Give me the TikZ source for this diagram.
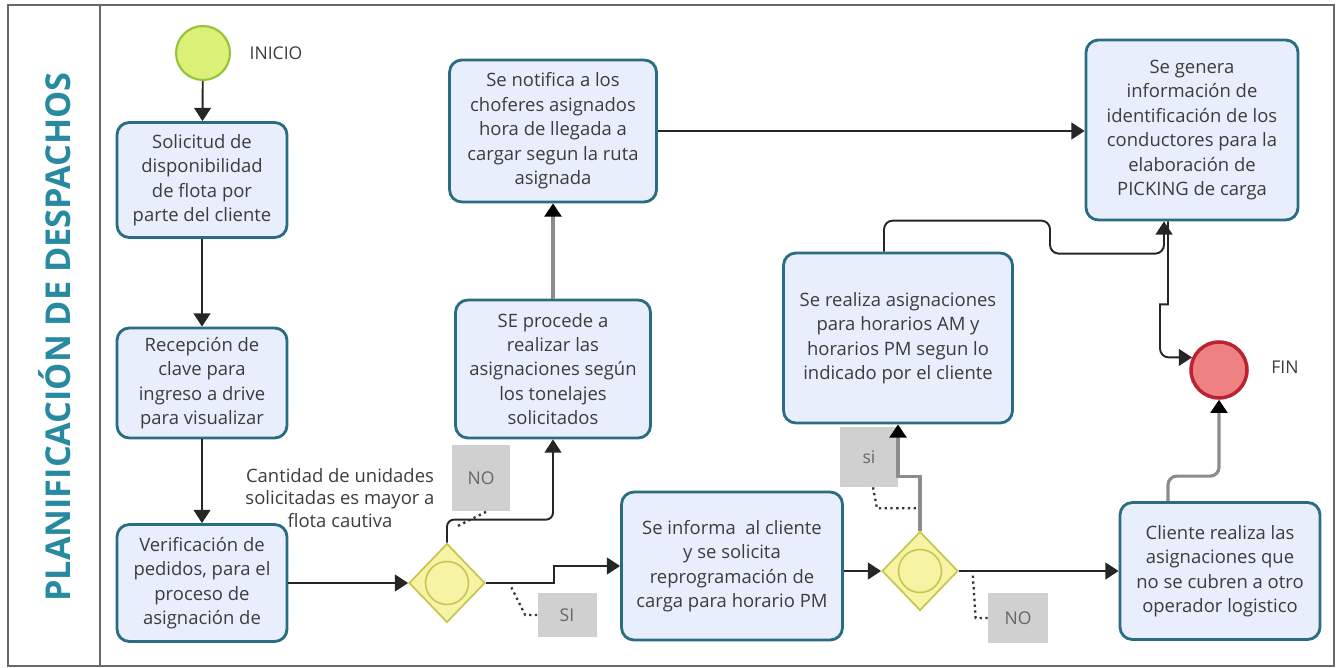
\documentclass[tikz,border=0pt]{standalone}
\usepackage{fontspec}
\setmainfont{Open Sans}
\usepackage{tikz}
\usetikzlibrary{shapes.geometric,arrows.meta,positioning,calc}

\definecolor{taskfill}{RGB}{233,238,252}
\definecolor{taskborder}{RGB}{42,108,130}
\definecolor{tasktext}{RGB}{60,60,60}
\definecolor{startfill}{RGB}{218,240,118}
\definecolor{startborder}{RGB}{150,195,55}
\definecolor{gatefill}{RGB}{246,243,165}
\definecolor{gateborder}{RGB}{200,198,80}
\definecolor{endfill}{RGB}{238,130,130}
\definecolor{endborder}{RGB}{185,35,50}
\definecolor{flaggray}{RGB}{208,208,208}
\definecolor{titleblue}{RGB}{40,138,160}
\definecolor{framegray}{RGB}{105,105,105}

\begin{document}
\begin{tikzpicture}[x=0.02cm, y=-0.02cm,
        >={Triangle[length=7.5pt,width=9.5pt]},
        task/.style={rectangle, rounded corners=7pt, draw=taskborder, line width=1.6pt, fill=taskfill, text=tasktext, font=\fontsize{10.5}{13.9}\selectfont, align=center, inner sep=2pt},
        gate/.style={diamond, draw=gateborder, fill=gatefill, line width=1pt, minimum width=1.52cm, minimum height=1.58cm, inner sep=0pt},
        gatering/.style={circle, draw=gateborder, line width=0.9pt, minimum size=0.86cm, inner sep=0pt},
        flag/.style={rectangle, fill=flaggray, text=black!60, font=\fontsize{10}{12}\selectfont, inner sep=0pt},
        flow/.style={->, line width=1.1pt, black!85},
        grayflow/.style={-{Triangle[length=7.5pt,width=9.5pt,color=black]}, line width=1.8pt, black!45},
        assoc/.style={line width=1.3pt, dotted, black!80}]

        \useasboundingbox (0,0) rectangle (1338,668);

        % Pool and lane
        \draw[framegray, line width=1.2pt] (8,5) rectangle (1334,666);
        \draw[framegray, line width=1.2pt] (100,5) -- (100,666);
        \node[rotate=90, text=titleblue, font=\fontsize{19.5}{21}\selectfont\bfseries] (lane) at (55,337) {PLANIFICACIÓN DE DESPACHOS};

        % Events
        \node[circle, draw=startborder, fill=startfill, line width=1.2pt, minimum size=1.08cm] (inicio) at (203,53) {};
        \node[font=\fontsize{10}{12}\selectfont, text=tasktext] (inicioLbl) at (276,53) {INICIO};
        \node[circle, draw=endborder, fill=endfill, line width=2pt, minimum size=1.12cm] (fin) at (1219,370) {};
        \node[font=\fontsize{10}{12}\selectfont, text=tasktext] (finLbl) at (1285,367) {FIN};

        % Tasks
        \node[task, minimum width=3.4cm, minimum height=2.3cm] (solicitud) at (202,180) {Solicitud de\\disponibilidad\\de flota por\\parte del cliente};
        \node[task, minimum width=3.4cm, minimum height=2.2cm] (recepcion) at (202,383) {Recepción de\\clave para\\ingreso a drive\\para visualizar};
        \node[task, minimum width=3.4cm, minimum height=2.34cm] (verif) at (202,583) {Verificación de\\pedidos, para el\\proceso de\\asignación de};
        \node[task, minimum width=3.9cm, minimum height=2.76cm] (procede) at (553,369) {SE procede a\\realizar las\\asignaciones según\\los tonelajes\\solicitados};
        \node[task, minimum width=4.14cm, minimum height=2.84cm] (notifica) at (553,131) {Se notifica a los\\choferes asignados\\hora de llegada a\\cargar segun la ruta\\asignada};
        \node[task, minimum width=4.42cm, minimum height=2.96cm] (informa) at (732,566) {Se informa \ al cliente\\y se solicita\\reprogramación de\\carga para horario PM};
        \node[task, minimum width=4.58cm, minimum height=3.4cm] (realiza) at (898,338) {Se realiza asignaciones\\para horarios AM y\\horarios PM segun lo\\indicado por el cliente};
        \node[task, minimum width=4.24cm, minimum height=3.6cm] (genera) at (1192,130) {Se genera\\información de\\identificación de los\\conductores para la\\elaboración de\\PICKING de carga};
        \node[task, minimum width=4.0cm, minimum height=2.74cm] (cliente) at (1220,571) {Cliente realiza las\\asignaciones que\\no se cubren a otro\\operador logistico};

        % Gateways
        \node[gate] (gw1) at (447,583) {};
        \node[gatering] (gw1in) at (gw1) {};
        \node[gate] (gw2) at (920,571) {};
        \node[gatering] (gw2in) at (gw2) {};

        % Condition and answers
        \node[font=\fontsize{10.5}{13}\selectfont, text=tasktext, align=center] (cond) at (340,498) {Cantidad de unidades\\solicitadas es mayor a\\flota cautiva};
        \node[flag, minimum width=1.16cm, minimum height=1.34cm] (no1) at (481,478) {NO};
        \node[flag, minimum width=1.18cm, minimum height=0.9cm] (si1) at (567,615) {SI};
        \node[flag, minimum width=1.16cm, minimum height=1.2cm] (si2) at (869,457) {si};
        \node[flag, minimum width=1.2cm, minimum height=1.0cm] (no2) at (1018,618) {NO};

        % Flows
        \draw[flow] (inicio) -- (solicitud);
        \draw[flow] (solicitud) -- (recepcion);
        \draw[flow] (recepcion) -- (verif);
        \draw[flow] (verif) -- (gw1);
        \draw[flow, rounded corners=4pt] (gw1.north) -- ++(0,-23) -| (procede.south);
        \draw[flow] (gw1.east) -- ++(68,0) |- (informa.west);
        \draw[grayflow] (procede) -- (notifica);
        \draw[flow] (notifica.east) -- (notifica.east -| genera.west);
        \draw[flow] (informa.east |- gw2.west) -- (gw2.west);
        \draw[flow] (gw2.east) -- (cliente.west);
        \draw[grayflow] (gw2.north) -- ++(0,-54) -| (realiza.south);
        \draw[flow, rounded corners=5pt] ([xshift=-0.28cm]realiza.north) -- ++(0,-31) -| ++(166,33) -| ([xshift=-0.56cm]genera.south);
        \draw[flow] ([xshift=-0.48cm]genera.south) -- ++(0,83) -- ++(-8,0) [rounded corners=5pt] |- (fin.155);
        \draw[grayflow, rounded corners=5pt] ([xshift=-1.04cm]cliente.north) -- ++(0,-25) -| (fin.south);

        % Associations
        \draw[assoc] ([xshift=0.1cm]no1.south) -- ++(-28,14);
        \draw[assoc] (si1.west) -- ++(-12,0) -- ++(-14,-28);
        \draw[assoc] ([xshift=0.08cm]si2.south) -- ++(4,21) -- ++(40,0);
        \draw[assoc] (no2.west) -- ++(-12,0) -- ++(-3,-45);

    \end{tikzpicture}
\end{document}
